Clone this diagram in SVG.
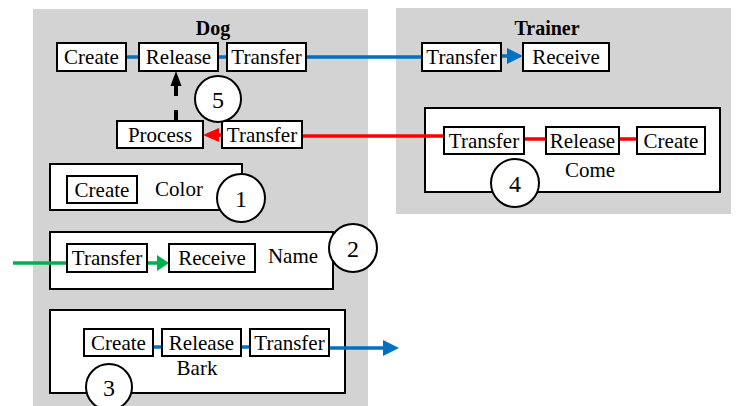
<svg xmlns="http://www.w3.org/2000/svg" width="737" height="406" viewBox="0 0 737 406">
<style>
.panel{fill:#d3d3d3;stroke:none}
.box{fill:#fff;stroke:#000;stroke-width:2}
.t{font-family:"Liberation Serif","Times New Roman",serif;font-size:21px;fill:#000;text-anchor:middle}
.title{font-family:"Liberation Serif","Times New Roman",serif;font-size:20px;font-weight:bold;fill:#000;text-anchor:middle}
.num{font-family:"Liberation Serif","Times New Roman",serif;font-size:24px;fill:#000;text-anchor:middle}
.circ{fill:#fff;stroke:#000;stroke-width:2}
.blue{stroke:#0070c0;stroke-width:3.5;fill:none}
.red{stroke:#ff0000;stroke-width:3.5;fill:none}
.green{stroke:#00b050;stroke-width:3.5;fill:none}
</style>
<defs>
<marker id="hb" markerUnits="userSpaceOnUse" markerWidth="17" markerHeight="16" refX="0" refY="8" orient="auto"><path d="M0,0 L16,8 L0,16 z" fill="#0070c0"/></marker>
<marker id="hr" markerUnits="userSpaceOnUse" markerWidth="17" markerHeight="16" refX="0" refY="8" orient="auto"><path d="M0,1 L16,8 L0,15 z" fill="#ff0000"/></marker>
<marker id="hg" markerUnits="userSpaceOnUse" markerWidth="13" markerHeight="16" refX="0" refY="8" orient="auto"><path d="M0,0 L12,8 L0,16 z" fill="#00b050"/></marker>
</defs>

<g id="dog-panel">
<rect class="panel" x="33" y="9" width="335" height="397"/>
<text class="title" x="213" y="35">Dog</text>
</g>
<g id="trainer-panel">
<rect class="panel" x="396" y="8" width="335" height="206"/>
<text class="title" x="547" y="35">Trainer</text>
</g>

<g id="come-group">
<rect class="box" x="425" y="108" width="295" height="84"/>
<text class="t" x="590" y="177">Come</text>
</g>
<g id="color-group">
<rect class="box" x="50" y="164" width="192" height="46"/>
<text class="t" x="179" y="196">Color</text>
</g>
<g id="name-group">
<rect class="box" x="50" y="232" width="283" height="57"/>
<text class="t" x="293" y="263">Name</text>
</g>
<g id="bark-group">
<rect class="box" x="50" y="310" width="295" height="83"/>
<text class="t" x="197" y="375">Bark</text>
</g>

<g id="connectors">
<path class="blue" d="M126,57 H139 M218,57 H227 M306,57 H422"/>
<path class="blue" d="M501,56 H507" marker-end="url(#hb)"/>
<path class="red" d="M222,135 H219" marker-end="url(#hr)"/>
<path class="red" d="M302,136 H444"/>
<path class="red" d="M524,139 H546 M619,139 H637"/>
<path class="green" d="M13,263 H67"/>
<path class="green" d="M147,263 H157" marker-end="url(#hg)"/>
<path class="blue" d="M153,347 H162 M241,347 H250"/>
<path class="blue" d="M329,348 H383" marker-end="url(#hb)"/>
<path d="M176,121 V85" stroke="#000" stroke-width="4" stroke-dasharray="11 14" fill="none"/>
<polygon points="176,71 170.5,86 181.5,86" fill="#000"/>
</g>

<g id="dog-create"><rect class="box" x="57" y="43" width="69" height="28"/><text class="t" x="91.5" y="64">Create</text></g>
<g id="dog-release"><rect class="box" x="139" y="43" width="79" height="28"/><text class="t" x="178.5" y="64">Release</text></g>
<g id="dog-transfer"><rect class="box" x="227" y="43" width="79" height="28"/><text class="t" x="266.5" y="64">Transfer</text></g>
<g id="trainer-transfer"><rect class="box" x="422" y="43" width="79" height="28"/><text class="t" x="461.5" y="64">Transfer</text></g>
<g id="trainer-receive"><rect class="box" x="523" y="43" width="86" height="28"/><text class="t" x="566" y="64">Receive</text></g>

<g id="dog-process"><rect class="box" x="117" y="121" width="86" height="27"/><text class="t" x="160" y="142">Process</text></g>
<g id="dog-transfer2"><rect class="box" x="222" y="121" width="80" height="27"/><text class="t" x="262" y="142">Transfer</text></g>

<g id="come-transfer"><rect class="box" x="444" y="127" width="80" height="27"/><text class="t" x="484" y="148">Transfer</text></g>
<g id="come-release"><rect class="box" x="546" y="127" width="73" height="27"/><text class="t" x="582.5" y="148">Release</text></g>
<g id="come-create"><rect class="box" x="637" y="127" width="68" height="27"/><text class="t" x="671" y="148">Create</text></g>

<g id="color-create"><rect class="box" x="67" y="176" width="70" height="27"/><text class="t" x="102" y="197">Create</text></g>

<g id="name-transfer"><rect class="box" x="67" y="244" width="80" height="28"/><text class="t" x="107" y="265">Transfer</text></g>
<g id="name-receive"><rect class="box" x="169" y="244" width="86" height="28"/><text class="t" x="212" y="265">Receive</text></g>

<g id="bark-create"><rect class="box" x="84" y="329" width="69" height="27"/><text class="t" x="118.5" y="350">Create</text></g>
<g id="bark-release"><rect class="box" x="162" y="329" width="79" height="27"/><text class="t" x="201.5" y="350">Release</text></g>
<g id="bark-transfer"><rect class="box" x="250" y="329" width="79" height="27"/><text class="t" x="289.5" y="350">Transfer</text></g>

<g id="marker-1"><circle class="circ" cx="241" cy="198" r="24"/><text class="num" x="241" y="207">1</text></g>
<g id="marker-2"><circle class="circ" cx="353" cy="248" r="24"/><text class="num" x="353" y="257">2</text></g>
<g id="marker-3"><circle class="circ" cx="109" cy="387" r="23"/><text class="num" x="109" y="396">3</text></g>
<g id="marker-4"><circle class="circ" cx="515" cy="183" r="24"/><text class="num" x="515" y="192">4</text></g>
<g id="marker-5"><circle class="circ" cx="218" cy="99" r="23"/><text class="num" x="218" y="108">5</text></g>
</svg>
